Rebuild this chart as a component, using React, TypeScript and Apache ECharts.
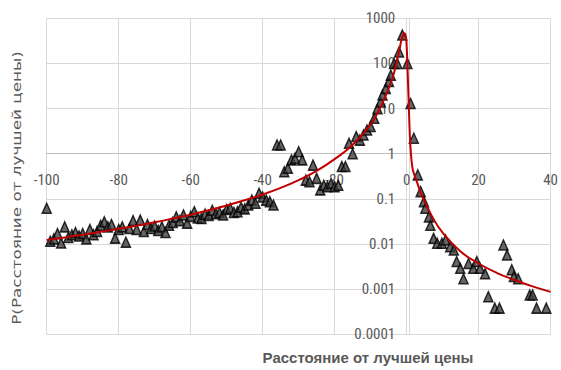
import React, { useEffect, useRef } from "react";
import * as echarts from "echarts";

// Observed points: distance from best price (x) and probability (y)
const pointX: number[] = [
  -100, -99, -98, -97, -96, -95, -94, -93, -92, -91, -90, -89, -88, -87, -86, -85, -84, -83, -82, -81,
  -80, -79, -78, -77, -76, -75, -74, -73, -72, -71, -70, -69, -68, -67, -66, -65, -64, -63, -62, -61,
  -60, -59, -58, -57, -56, -55, -54, -53, -52, -51, -50, -49, -48, -47, -46, -45, -44, -43, -42, -41,
  -40, -39, -38, -37, -36, -35, -34, -33, -32, -31, -30, -29, -28, -27, -26, -25, -24, -23, -22, -21,
  -20, -19, -18, -17, -16, -15, -14, -13, -12, -11, -10, -9, -8.1, -7.2, -6.7, -5.8, -4.9, -4.4, -3.5, -2.6,
  -2.1, -1.2, 0.2, 1.1, 2.0, 3.1, 3.9, 4.8, 5.2, 6.2, 6.6, 7.5, 8.5, 9.8, 10.8, 12.1, 13.1, 13.9, 14.9, 15.8,
  17.2, 18.5, 19.5, 20.4, 21.8, 22.7, 24.5, 25.8, 26.9, 27.9, 29.2, 29.8, 31.0, 34.2, 35.0, 36.1, 38.8,
];
const pointY: number[] = [
  0.062, 0.0115, 0.013, 0.017, 0.0105, 0.024, 0.014, 0.016, 0.018, 0.015, 0.017, 0.013, 0.021, 0.016, 0.019, 0.026, 0.031, 0.024, 0.027, 0.0135,
  0.021, 0.024, 0.011, 0.022, 0.033, 0.021, 0.034, 0.019, 0.027, 0.022, 0.025, 0.02, 0.024, 0.018, 0.026, 0.03, 0.04, 0.033, 0.044, 0.029,
  0.041, 0.052, 0.038, 0.037, 0.046, 0.043, 0.056, 0.047, 0.05, 0.044, 0.058, 0.062, 0.05, 0.052, 0.065, 0.06, 0.073, 0.094, 0.08, 0.133,
  0.11, 0.094, 0.087, 0.073, 1.56, 1.56, 0.4, 0.475, 0.73, 0.79, 1.11, 0.73, 0.26, 0.24, 0.56, 0.285, 0.158, 0.2, 0.186, 0.22,
  0.186, 0.2, 0.52, 0.52, 1.7, 1.0, 2.4, 2.0, 2.6, 3.35, 4.0, 6.1, 10, 14, 20, 28, 40, 55, 100, 100,
  180, 425, 100, 13, 2.2, 0.34, 0.145, 0.087, 0.062, 0.04, 0.026, 0.0134, 0.0104, 0.0104, 0.0123, 0.0087, 0.0074, 0.0041, 0.0029, 0.0017,
  0.0037, 0.0029, 0.0041, 0.0029, 0.0022, 0.00068, 0.00038, 0.00038, 0.0095, 0.0057, 0.0027, 0.0019, 0.0017, 0.00074, 0.00074, 0.00038, 0.00038,
];

// Fitted trend curve
const trendX: number[] = [
  -100, -95, -90, -85, -80, -75, -70, -65, -60, -55, -50, -45, -40, -35, -30, -25, -20, -15, -10, -8,
  -6, -5, -4, -3, -2, -1.5, -1, -0.6, -0.2, 0, 0.3, 0.6, 0.9, 1.2, 1.6, 2, 3, 4, 5, 7,
  10, 15, 20, 25, 30, 35, 40,
];
const trendY: number[] = [
  0.0123, 0.014, 0.0161, 0.0186, 0.0217, 0.0255, 0.0303, 0.0366, 0.0447, 0.0558, 0.0713, 0.0933, 0.125, 0.175, 0.26, 0.417, 0.759, 1.58, 4.47, 8.3,
  17.8, 27.5, 45.7, 89, 200, 316, 427, 468, 380, 251, 60, 12, 2.5, 1.0, 0.5, 0.37, 0.22, 0.13, 0.089, 0.042,
  0.0178, 0.0068, 0.0037, 0.0023, 0.0016, 0.00115, 0.00087,
];

const yTickLabels: string[] = ["0.0001", "0.001", "0.01", "0.1", "1", "10", "100", "1000"];

const xTitle = "Расстояние от лучшей цены";
const yTitle = "P(Расстояние от лучшей цены)";

export default function App() {
  const ref = useRef<HTMLDivElement>(null);
  useEffect(() => {
    if (!ref.current) return;
    const chart = echarts.init(ref.current, null, { renderer: "svg" });
    const labelFont = "'Liberation Sans Narrow', 'Roboto Condensed', 'DejaVu Sans Condensed', sans-serif";
    const gLeft = 46.7;
    const gRight = 6.7;
    const gTop = 18.3;
    const gBottom = 35.7;
    const W = 561;
    const H = 370;
    const gW = W - gLeft - gRight;
    const gH = H - gTop - gBottom;
    // cross points: x axis crosses at y = 1 (log 0), y axis crosses at x = 0
    const xAxisOffset = -(gH * (0 - -4)) / 7;
    const yAxisOffset = -(gW * (0 - -100)) / 140;
    chart.setOption({
      animation: false,
      backgroundColor: "#ffffff",
      grid: { left: gLeft, right: gRight, top: gTop, bottom: gBottom, containLabel: false },
      xAxis: {
        type: "value",
        min: -100,
        max: 40,
        interval: 20,
        position: "bottom",
        offset: xAxisOffset,
        axisLine: { onZero: false, lineStyle: { color: "#bfbfbf", width: 1 } },
        axisTick: { show: false },
        splitLine: { show: true, lineStyle: { color: "#d9d9d9", width: 1 } },
        axisLabel: { color: "#595959", fontSize: 15, fontFamily: labelFont, margin: 19 },
      },
      yAxis: {
        type: "value",
        min: -4,
        max: 3,
        interval: 1,
        position: "left",
        offset: yAxisOffset,
        axisLine: { onZero: false, lineStyle: { color: "#d9d9d9", width: 1 } },
        axisTick: { show: false },
        splitLine: { show: true, lineStyle: { color: "#d9d9d9", width: 1 } },
        axisLabel: {
          color: "#595959",
          fontSize: 15,
          fontFamily: labelFont,
          margin: 14,
          formatter: (v: number) => yTickLabels[Math.round(v) + 4] ?? "",
        },
      },
      graphic: [
        {
          type: "text",
          x: 368,
          y: 357,
          style: {
            text: xTitle,
            fill: "#595959",
            font: "bold 15px 'Liberation Sans', Arial, sans-serif",
            textAlign: "center",
            textVerticalAlign: "middle",
          },
        },
        {
          type: "text",
          x: 16,
          y: 188,
          rotation: Math.PI / 2,
          scaleX: 1.4,
          style: {
            text: yTitle,
            fill: "#595959",
            font: "12px 'DejaVu Sans', sans-serif",
            textAlign: "center",
            textVerticalAlign: "middle",
          },
        },
      ],
      series: [
        {
          type: "scatter",
          symbol: "triangle",
          symbolSize: [9, 10],
          itemStyle: { color: "#404040", borderColor: "#000000", borderWidth: 1.5 },
          data: pointX.map((x, i) => [x, Math.log10(pointY[i])]),
          z: 2,
        },
        {
          type: "line",
          showSymbol: false,
          smooth: 0.5,
          lineStyle: { color: "#c00000", width: 2 },
          data: trendX.map((x, i) => [x, Math.log10(trendY[i])]),
          z: 3,
        },
      ],
    });
    return () => chart.dispose();
  }, []);
  return (
    <div
      ref={ref}
      style={{ position: "fixed", left: 0, top: 0, width: 561, height: 370 }}
    />
  );
}
